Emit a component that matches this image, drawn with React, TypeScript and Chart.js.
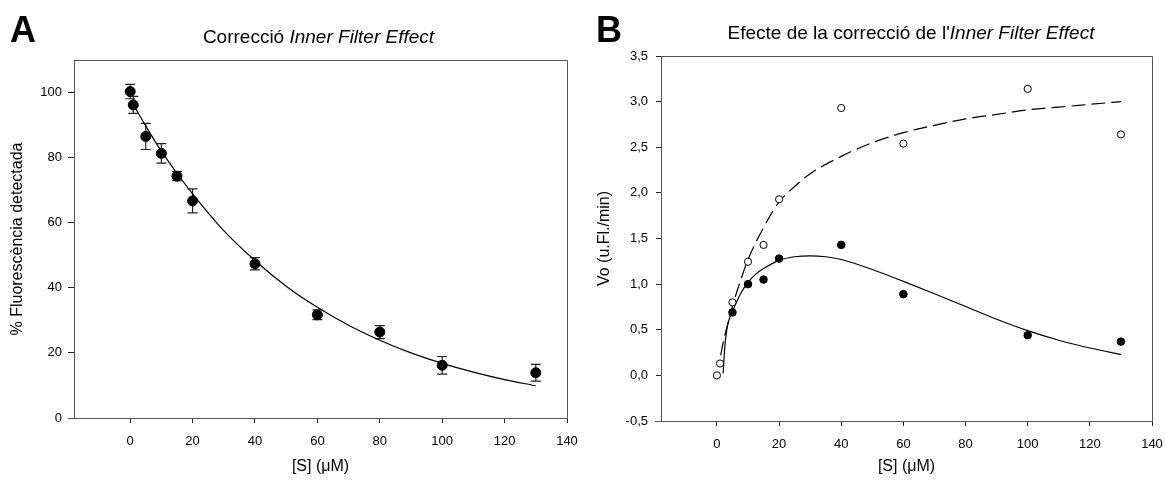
import React, { useEffect, useRef } from 'react';
import { Chart, registerables } from 'chart.js';

Chart.register(...registerables);

const FONT = "'Liberation Sans', Arial, Helvetica, sans-serif";

// ---- Shared axis ticks ----
const xTicks = [0, 20, 40, 60, 80, 100, 120, 140];
const X_MIN = -18;
const X_MAX = 140;
const X_AXIS_START = -20;

// ---- Panel A ----
const aYTicks = [0, 20, 40, 60, 80, 100];
const aX = [0, 1, 5, 10, 15, 20, 40, 60, 80, 100, 130];
const aY = [100.3, 96.2, 86.5, 81.3, 74.3, 66.7, 47.4, 31.7, 26.4, 16.2, 13.9];
const aErr = [2.2, 2.6, 4.0, 3.0, 1.4, 3.7, 1.9, 1.5, 2.0, 2.7, 2.6];
const aFitX = [1, 5, 10, 15, 20, 30, 40, 50, 60, 70, 80, 90, 100, 110, 120, 130];
const aFitY = [96.3, 89.7, 82.0, 75.2, 68.9, 57.6, 48.4, 40.5, 34.0, 28.5, 23.9, 20.0, 16.8, 14.1, 11.8, 9.9];

// ---- Panel B ----
const bYTicks = [-0.5, 0, 0.5, 1, 1.5, 2, 2.5, 3, 3.5];
const bCorrX = [0, 1, 5, 10, 15, 20, 40, 60, 100, 130];
const bCorrY = [0, 0.13, 0.8, 1.245, 1.43, 1.93, 2.93, 2.54, 3.14, 2.64];
const bRawX = [5, 10, 15, 20, 40, 60, 100, 130];
const bRawY = [0.69, 1.0, 1.05, 1.28, 1.43, 0.89, 0.44, 0.37];
const bCorrFitX = [1.2, 2, 3, 5, 7.5, 10, 15, 20, 25, 30, 40, 50, 60, 70, 80, 90, 100, 110, 120, 130];
const bCorrFitY = [0.22, 0.36, 0.5, 0.76, 1.03, 1.27, 1.62, 1.9, 2.07, 2.21, 2.4, 2.55, 2.66, 2.74, 2.81, 2.86, 2.91, 2.94, 2.97, 3.0];
const bRawFitX = [2, 2.5, 3, 3.5, 4, 5, 6, 7.5, 10, 12.5, 15, 20, 25, 30, 35, 40, 50, 60, 70, 80, 90, 100, 110, 120, 130];
const bRawFitY = [0.02, 0.3, 0.46, 0.56, 0.62, 0.7, 0.78, 0.89, 1.02, 1.11, 1.17, 1.26, 1.3, 1.31, 1.3, 1.27, 1.16, 1.03, 0.895, 0.755, 0.615, 0.49, 0.385, 0.3, 0.23];

const pts = (xs: number[], ys: number[]) => xs.map((x, i) => ({ x, y: ys[i] }));

const framePlugin = {
  id: 'frame',
  afterDraw(chart: any) {
    const { ctx, chartArea: a } = chart;
    const xs = chart.scales.x;
    const L = Math.round(a.left) + 0.5;
    const R = Math.round(a.right) + 0.5;
    const T = Math.round(a.top) + 0.5;
    const B = Math.round(a.bottom) + 0.5;
    ctx.save();
    ctx.strokeStyle = '#555';
    ctx.lineWidth = 1;
    ctx.beginPath();
    ctx.moveTo(L, T);
    ctx.lineTo(R, T);
    ctx.lineTo(R, B);
    ctx.moveTo(Math.round(xs.getPixelForValue(X_AXIS_START)), B);
    ctx.lineTo(L, B);
    ctx.stroke();
    ctx.restore();
  },
};

const errorBarPlugin = {
  id: 'errorBars',
  beforeDatasetsDraw(chart: any) {
    const { ctx } = chart;
    const xs = chart.scales.x;
    const ys = chart.scales.y;
    ctx.save();
    ctx.strokeStyle = '#222';
    ctx.lineWidth = 1.2;
    aX.forEach((v, i) => {
      const px = xs.getPixelForValue(v);
      const t = ys.getPixelForValue(aY[i] + aErr[i]);
      const b = ys.getPixelForValue(aY[i] - aErr[i]);
      ctx.beginPath();
      ctx.moveTo(px, t);
      ctx.lineTo(px, b);
      ctx.moveTo(px - 5, t);
      ctx.lineTo(px + 5, t);
      ctx.moveTo(px - 5, b);
      ctx.lineTo(px + 5, b);
      ctx.stroke();
    });
    ctx.restore();
  },
};

function makeX(titlePadBottom: number, height: number) {
  return {
    type: 'linear',
    min: X_MIN,
    max: X_MAX,
    afterBuildTicks: (s: any) => {
      s.ticks = xTicks.map((v) => ({ value: v }));
    },
    afterFit: (s: any) => {
      s.height = height;
      s.paddingLeft = 0;
      s.paddingRight = 0;
    },
    border: { display: true, color: '#555', width: 1 },
    grid: { drawOnChartArea: false, drawTicks: true, tickLength: 5, color: '#222' },
    ticks: { color: '#000', font: { family: FONT, size: 13 }, padding: 11, maxRotation: 0 },
    title: {
      display: true,
      text: '[S] (μM)',
      color: '#000',
      font: { family: FONT, size: 16 },
      padding: { top: 0, bottom: titlePadBottom },
    },
  };
}

function makeY(min: number, max: number, ticks: number[], width: number, title: string, titlePad: number, fmt: (v: number) => string, tickLen: number, tickPad: number) {
  return {
    type: 'linear',
    min,
    max,
    afterBuildTicks: (s: any) => {
      s.ticks = ticks.map((v) => ({ value: v }));
    },
    afterFit: (s: any) => {
      s.width = width;
      s.paddingTop = 0;
      s.paddingBottom = 0;
    },
    border: { display: true, color: '#555', width: 1 },
    grid: { drawOnChartArea: false, drawTicks: true, tickLength: tickLen, color: '#222' },
    ticks: {
      color: '#000',
      font: { family: FONT, size: 13 },
      padding: tickPad,
      callback: (v: any) => fmt(Number(v)),
    },
    title: {
      display: true,
      text: title,
      color: '#000',
      font: { family: FONT, size: 16 },
      padding: { top: titlePad, bottom: 0 },
    },
  };
}

function PanelA() {
  const ref = useRef<HTMLCanvasElement>(null);
  useEffect(() => {
    const chart = new Chart(ref.current as HTMLCanvasElement, {
      type: 'scatter',
      data: {
        datasets: [
          {
            type: 'scatter',
            data: pts(aX, aY),
            pointRadius: 5,
            pointBackgroundColor: '#000',
            pointBorderColor: '#000',
            pointBorderWidth: 1,
            showLine: false,
          },
          {
            type: 'line',
            data: pts(aFitX, aFitY),
            borderColor: '#000',
            borderWidth: 1.2,
            pointRadius: 0,
            cubicInterpolationMode: 'monotone',
            fill: false,
          },
        ],
      } as any,
      options: {
        animation: false,
        responsive: false,
        maintainAspectRatio: false,
        layout: { padding: { top: 60, right: 13, bottom: 0, left: 0 } },
        plugins: { legend: { display: false }, tooltip: { enabled: false } },
        scales: {
          x: makeX(4, 62),
          y: makeY(0, 110, aYTicks, 74, '% Fluorescència detectada', 8, (v) => String(v), 6, 6),
        } as any,
      },
      plugins: [framePlugin, errorBarPlugin],
    });
    return () => chart.destroy();
  }, []);
  return <canvas ref={ref} width={580} height={480} style={{ position: 'absolute', left: 0, top: 0, width: 580, height: 480 }} />;
}

function PanelB() {
  const ref = useRef<HTMLCanvasElement>(null);
  useEffect(() => {
    const chart = new Chart(ref.current as HTMLCanvasElement, {
      type: 'scatter',
      data: {
        datasets: [
          {
            type: 'scatter',
            data: pts(bCorrX, bCorrY),
            pointRadius: 3.6,
            pointBackgroundColor: '#fff',
            pointBorderColor: '#000',
            pointBorderWidth: 1,
            showLine: false,
          },
          {
            type: 'scatter',
            data: pts(bRawX, bRawY),
            pointRadius: 3.8,
            pointBackgroundColor: '#000',
            pointBorderColor: '#000',
            pointBorderWidth: 1,
            showLine: false,
          },
          {
            type: 'line',
            data: pts(bCorrFitX, bCorrFitY),
            borderColor: '#000',
            borderWidth: 1.2,
            borderDash: [14, 6],
            pointRadius: 0,
            cubicInterpolationMode: 'monotone',
            fill: false,
          },
          {
            type: 'line',
            data: pts(bRawFitX, bRawFitY),
            borderColor: '#000',
            borderWidth: 1.2,
            pointRadius: 0,
            cubicInterpolationMode: 'monotone',
            fill: false,
          },
        ],
      } as any,
      options: {
        animation: false,
        responsive: false,
        maintainAspectRatio: false,
        layout: { padding: { top: 56, right: 13, bottom: 0, left: 0 } },
        plugins: { legend: { display: false }, tooltip: { enabled: false } },
        scales: {
          x: makeX(4, 59),
          y: makeY(-0.5, 3.5, bYTicks, 81, 'Vo (u.Fl./min)', 15, (v) => v.toFixed(1).replace('.', ','), 5, 8),
        } as any,
      },
      plugins: [framePlugin],
    });
    return () => chart.destroy();
  }, []);
  return <canvas ref={ref} width={585} height={480} style={{ position: 'absolute', left: 580, top: 0, width: 585, height: 480 }} />;
}

export default function App() {
  return (
    <div style={{ position: 'absolute', left: 0, top: 0, width: 1165, height: 480, background: '#fff', overflow: 'hidden', fontFamily: FONT }}>
      <PanelA />
      <PanelB />
      <div style={{ position: 'absolute', left: 10, top: 10, fontSize: 36, fontWeight: 'bold', lineHeight: '40px', color: '#000' }}>A</div>
      <div style={{ position: 'absolute', left: 596, top: 10, fontSize: 36, fontWeight: 'bold', lineHeight: '40px', color: '#000' }}>B</div>
      <div style={{ position: 'absolute', left: 72, width: 493, top: 26, textAlign: 'center', fontSize: 19, lineHeight: '22px', color: '#000' }}>
        Correcció <i>Inner Filter Effect</i>
      </div>
      <div style={{ position: 'absolute', left: 670, width: 482, top: 22, textAlign: 'center', fontSize: 19, lineHeight: '22px', color: '#000' }}>
        Efecte de la correcció de l'<i>Inner Filter Effect</i>
      </div>
    </div>
  );
}
